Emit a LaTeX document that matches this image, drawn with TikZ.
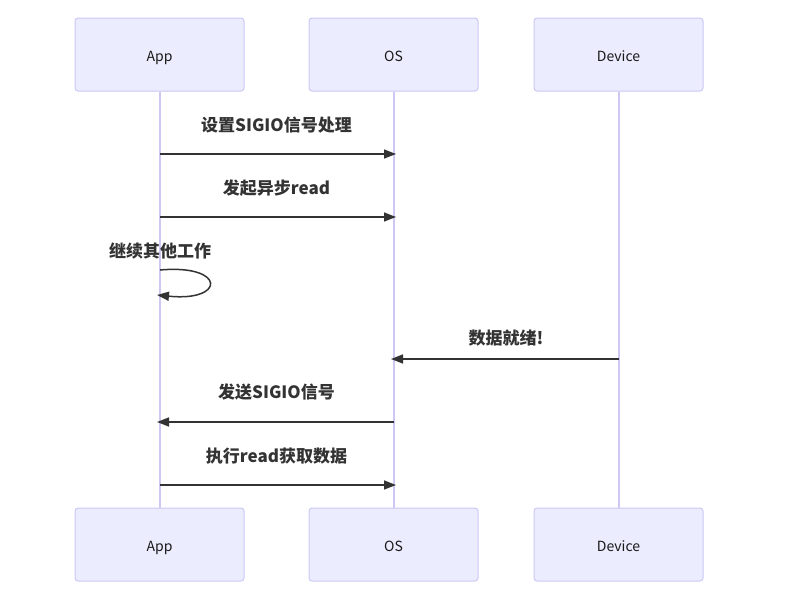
\documentclass[tikz,border=0pt]{standalone}
\usepackage{fontspec}
\setmainfont{Noto Sans CJK SC}
\usetikzlibrary{arrows.meta}
\definecolor{actorfill}{HTML}{ECECFF}
\definecolor{actorline}{HTML}{CCC8F5}
\definecolor{lifeline}{HTML}{CFC8F2}
\definecolor{msg}{HTML}{333333}
\tikzset{
  actor/.style={draw=actorline, fill=actorfill, line width=1pt, rounded corners=3pt,
    minimum width=169pt, minimum height=73pt, inner sep=0pt, text height=13pt, text depth=0pt,
    font=\fontsize{14}{16}\selectfont, text=black!90},
  life/.style={draw=lifeline, line width=2pt},
  msgarrow/.style={draw=msg, line width=1.5pt, -{Triangle[length=12pt,width=9pt]}},
  msglabel/.style={font=\fontsize{17}{20}\selectfont\bfseries, text=msg, inner sep=0pt}
}
\begin{document}
\begin{tikzpicture}[x=1pt,y=-1pt]
\useasboundingbox (0,0) rectangle (795,597);
% actors
\node[actor] (appT) at (159.5,54.5) {App};
\node[actor] (osT) at (393.5,54.5) {OS};
\node[actor] (devT) at (618.5,54.5) {Device};
\node[actor] (appB) at (159.5,544.5) {App};
\node[actor] (osB) at (393.5,544.5) {OS};
\node[actor] (devB) at (618.5,544.5) {Device};
% lifelines
\draw[life] (appT.south) -- (appB.north);
\draw[life] (osT.south) -- (osB.north);
\draw[life] (devT.south) -- (devB.north);
% coordinates
\coordinate (a1) at (159.5,154); \coordinate (o1) at (396,154);
\coordinate (a2) at (159.5,217); \coordinate (o2) at (396,217);
\coordinate (s1) at (160,270); \coordinate (s2) at (157,295);
\coordinate (d4) at (618.5,359); \coordinate (o4) at (391,359);
\coordinate (o5) at (393.5,422); \coordinate (a5) at (157,422);
\coordinate (a6) at (159.5,485); \coordinate (o6) at (396,485);
% messages
\draw[msgarrow] (a1) -- (o1);
\node[msglabel] (l1) at (276.5,125) {设置SIGIO信号处理};
\draw[msgarrow] (a2) -- (o2);
\node[msglabel] (l2) at (276.5,188) {发起异步read};
\draw[msgarrow] (s1) .. controls (226,264) and (226,302) .. (s2);
\node[msglabel] (l3) at (160,251) {继续其他工作};
\draw[msgarrow] (d4) -- (o4);
\node[msglabel] (l4) at (506,338) {数据就绪!};
\draw[msgarrow] (o5) -- (a5);
\node[msglabel] (l5) at (276.5,392) {发送SIGIO信号};
\draw[msgarrow] (a6) -- (o6);
\node[msglabel] (l6) at (276.5,456) {执行read获取数据};
\end{tikzpicture}
\end{document}
